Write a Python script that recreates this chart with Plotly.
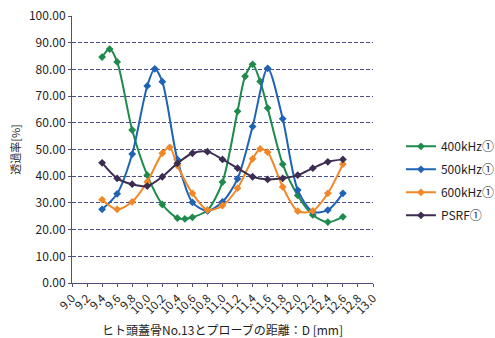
import plotly.graph_objects as go

# Distance D [mm] and transmittance [%] per frequency
x_400 = [9.4, 9.5, 9.6, 9.8, 10.0, 10.2, 10.4, 10.5, 10.6, 10.8, 11.0, 11.2, 11.3, 11.4, 11.5, 11.6, 11.8, 12.0, 12.2, 12.4, 12.6]
y_400 = [84.6, 87.6, 82.8, 57.3, 40.4, 29.4, 24.3, 24.0, 24.6, 27.2, 37.8, 64.3, 77.4, 81.9, 75.5, 65.5, 44.5, 32.8, 25.5, 22.8, 24.8]

x_500 = [9.4, 9.6, 9.8, 10.0, 10.1, 10.2, 10.4, 10.6, 10.8, 11.0, 11.2, 11.4, 11.6, 11.8, 12.0, 12.2, 12.4, 12.6]
y_500 = [27.6, 33.4, 48.3, 73.8, 80.2, 75.4, 46.3, 30.2, 27.0, 30.4, 39.0, 58.6, 80.4, 61.5, 34.8, 26.7, 27.3, 33.6]

x_600 = [9.4, 9.6, 9.8, 10.0, 10.2, 10.3, 10.4, 10.6, 10.8, 11.0, 11.2, 11.4, 11.5, 11.6, 11.8, 12.0, 12.2, 12.4, 12.6]
y_600 = [31.2, 27.6, 30.4, 37.9, 48.6, 50.8, 44.0, 33.6, 27.3, 29.0, 35.5, 46.5, 50.2, 49.0, 36.0, 26.9, 27.0, 33.6, 44.5]

x_psrf = [9.4, 9.6, 9.8, 10.0, 10.2, 10.4, 10.6, 10.8, 11.0, 11.2, 11.4, 11.6, 11.8, 12.0, 12.2, 12.4, 12.6]
y_psrf = [45.0, 39.2, 37.0, 36.3, 39.8, 44.8, 48.6, 49.2, 46.3, 43.0, 39.8, 38.8, 39.2, 40.4, 43.0, 45.4, 46.3]

series = [
    ("400kHz①", x_400, y_400, "#1e8a4c"),
    ("500kHz①", x_500, y_500, "#1f63b5"),
    ("600kHz①", x_600, y_600, "#f0882a"),
    ("PSRF①", x_psrf, y_psrf, "#3d2c52"),
]

FONT = "Noto Sans CJK JP"
TEXT = "#1e1e1e"

fig = go.Figure()
for name, xs, ys, color in series:
    fig.add_trace(go.Scatter(
        x=xs, y=ys, name=name, legendgroup=name, mode="lines+markers",
        line=dict(color=color, width=2, shape="spline", smoothing=0.8),
        marker=dict(symbol="diamond", size=6, color=color),
    ))

fig.update_layout(
    width=495, height=338,
    margin=dict(l=72, r=122, t=16, b=55, autoexpand=False),
    paper_bgcolor="white", plot_bgcolor="white",
    font=dict(family=FONT, size=12, color=TEXT),
    showlegend=True,
    legend=dict(xref="container", yref="container", x=0.81, y=0.465,
                xanchor="left", yanchor="middle", traceorder="grouped",
                font=dict(size=12, color=TEXT),
                tracegroupgap=4, itemwidth=30, bgcolor="rgba(0,0,0,0)"),
    xaxis=dict(
        range=[9.0, 13.0], tick0=9.0, dtick=0.2, tickformat=".1f",
        tickangle=-45, showgrid=False, zeroline=False, automargin=False,
        showline=True, linecolor="#50507a", linewidth=1,
        ticks="outside", ticklen=3, tickcolor="#50507a",
        tickfont=dict(size=11.5, color=TEXT),
        title=dict(text="ヒト頭蓋骨No.13とプローブの距離：D [mm]",
                   font=dict(size=12, color=TEXT), standoff=11),
    ),
    yaxis=dict(
        range=[0, 100], dtick=10, tickformat=".2f",
        showgrid=True, gridcolor="#4e4e86", griddash="4px,2px", gridwidth=1,
        zeroline=False, showline=True, linecolor="#50507a", linewidth=1,
        automargin=False,
        ticks="outside", ticklen=3, tickcolor="#50507a",
        tickfont=dict(size=12, color=TEXT),
        title=dict(text="透過率[%]", font=dict(size=11, color=TEXT), standoff=6),
    ),
)

fig.write_html("out.html")
